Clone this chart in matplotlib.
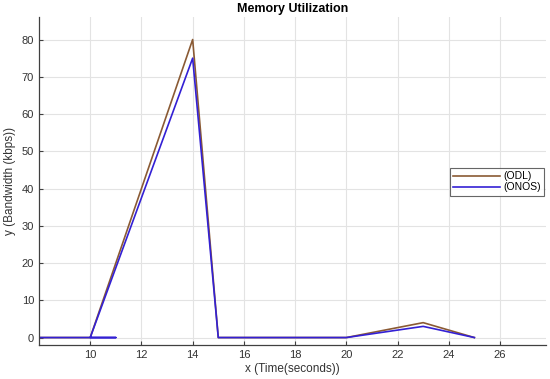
import matplotlib
matplotlib.use("Agg")
import matplotlib.pyplot as plt

plt.rcParams['font.family'] = ['Liberation Sans', 'DejaVu Sans']

odl_x = [8, 10, 14, 15, 20, 23, 25]
odl_y = [0, 0, 80, 0, 0, 4, 0]
onos_x = [8, 11, 10, 14, 15, 20, 23, 25]
onos_y = [0, 0, 0, 75, 0, 0, 3, 0]
xticks = [10, 12, 14, 16, 18, 20, 22, 24, 26]
yticks = [0, 10, 20, 30, 40, 50, 60, 70, 80]

fig = plt.figure(figsize=(5.5, 3.79), dpi=100)
ax = fig.add_axes([0.0709, 0.0897, 0.922, 0.865])

ax.plot(odl_x, odl_y, color='#8a5a34', lw=1.2, label='(ODL)')
ax.plot(onos_x, onos_y, color='#3320d4', lw=1.2, label='(ONOS)')

ax.set_xlim(8, 27.8)
ax.set_ylim(-2, 86)
ax.set_xticks(xticks)
ax.set_yticks(yticks)
ax.grid(True, color='#e3e3e3', lw=0.8)
ax.set_axisbelow(True)
for s in ['top', 'right']:
    ax.spines[s].set_visible(False)
for s in ['left', 'bottom']:
    ax.spines[s].set_color('#404040')
    ax.spines[s].set_linewidth(0.9)
ax.tick_params(direction='in', length=3, colors='#404040', labelsize=8, labelcolor='#333333')

ax.set_title('Memory Utilization', fontsize=9, fontweight='bold', pad=4)
ax.set_xlabel('x (Time(seconds))', fontsize=8.5, color='#333333', labelpad=2)
ax.set_ylabel('y (Bandwidth (kbps))', fontsize=8.5, color='#333333', labelpad=4)

leg = ax.legend(loc='upper left', bbox_to_anchor=(0.8, 0.555), fontsize=7.5,
                frameon=True, fancybox=False, handlelength=4.5, borderpad=0.3,
                labelspacing=0.1, handletextpad=0.3)
leg.get_frame().set_edgecolor('#404040')
leg.get_frame().set_linewidth(0.8)

fig.savefig('out.png', dpi=100)
